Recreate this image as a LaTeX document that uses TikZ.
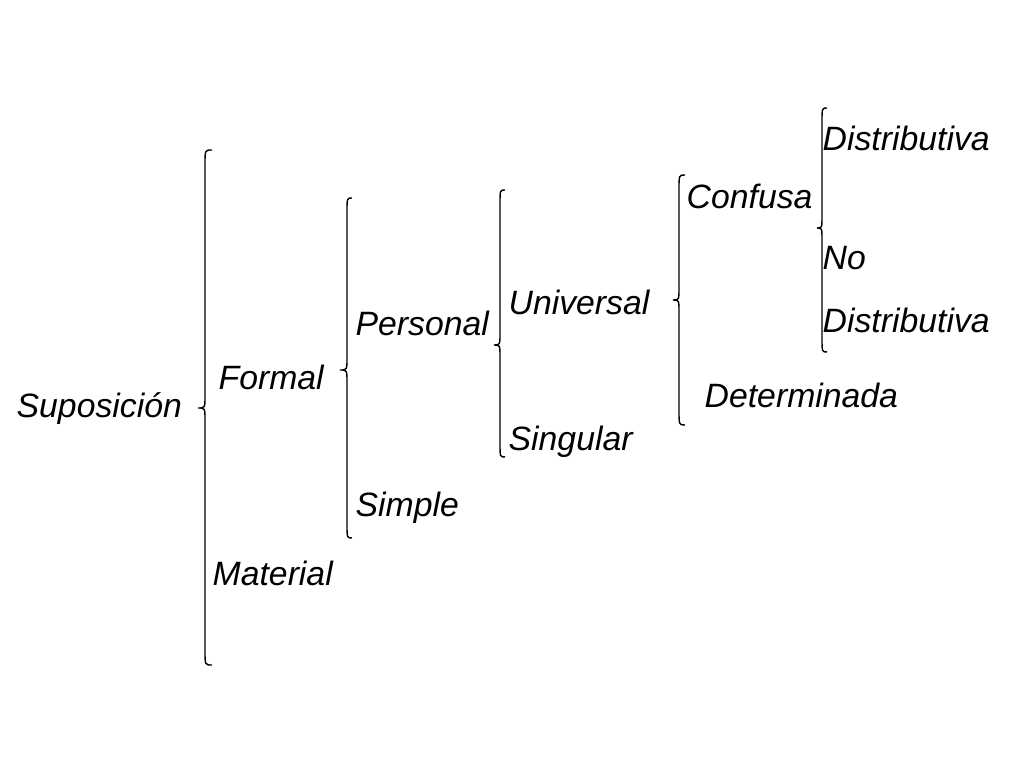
\documentclass[tikz,border=0pt]{standalone}
\usepackage{fontspec}
\setmainfont{Liberation Sans}
\begin{document}
\begin{tikzpicture}[x=0.01cm,y=-0.01cm,
  lbl/.style={anchor=west,inner sep=0pt,font=\fontsize{9.6pt}{11pt}\selectfont\itshape},
  br/.style={line width=0.4pt}]
\fill[white] (0,0) rectangle (1024,768);
\useasboundingbox (0,0) rectangle (1024,768);
\def\brc#1#2#3#4#5#6{\draw[br] (#3,#4) .. controls (#2,#4) .. (#2,#4+14) -- (#2,#5-12) .. controls (#2,#5) .. (#1,#5) .. controls (#2,#5) .. (#2,#5+12) -- (#2,#6-14) .. controls (#2,#6) .. (#3,#6);}
\brc{198}{205}{212}{150}{408}{665}
\brc{340}{347}{352}{198}{370}{538}
\brc{494}{500}{505}{190}{345}{457}
\brc{673}{679}{685}{175}{300}{425}
\brc{817}{822}{827}{108}{228}{352}
\node[lbl] (sup) at (16,409) {Suposición};
\node[lbl] (for) at (218,377) {Formal};
\node[lbl] (mat) at (212,573) {Material};
\node[lbl] (per) at (355,323) {Personal};
\node[lbl] (sim) at (355,508) {Simple};
\node[lbl] (uni) at (508,302) {Universal};
\node[lbl] (sin) at (508,442) {Singular};
\node[lbl] (con) at (686,196) {Confusa};
\node[lbl] (det) at (704,395) {Determinada};
\node[lbl] (d1) at (822,138) {Distributiva};
\node[lbl] (no) at (822,258) {No};
\node[lbl] (d2) at (822,320) {Distributiva};
\end{tikzpicture}
\end{document}
